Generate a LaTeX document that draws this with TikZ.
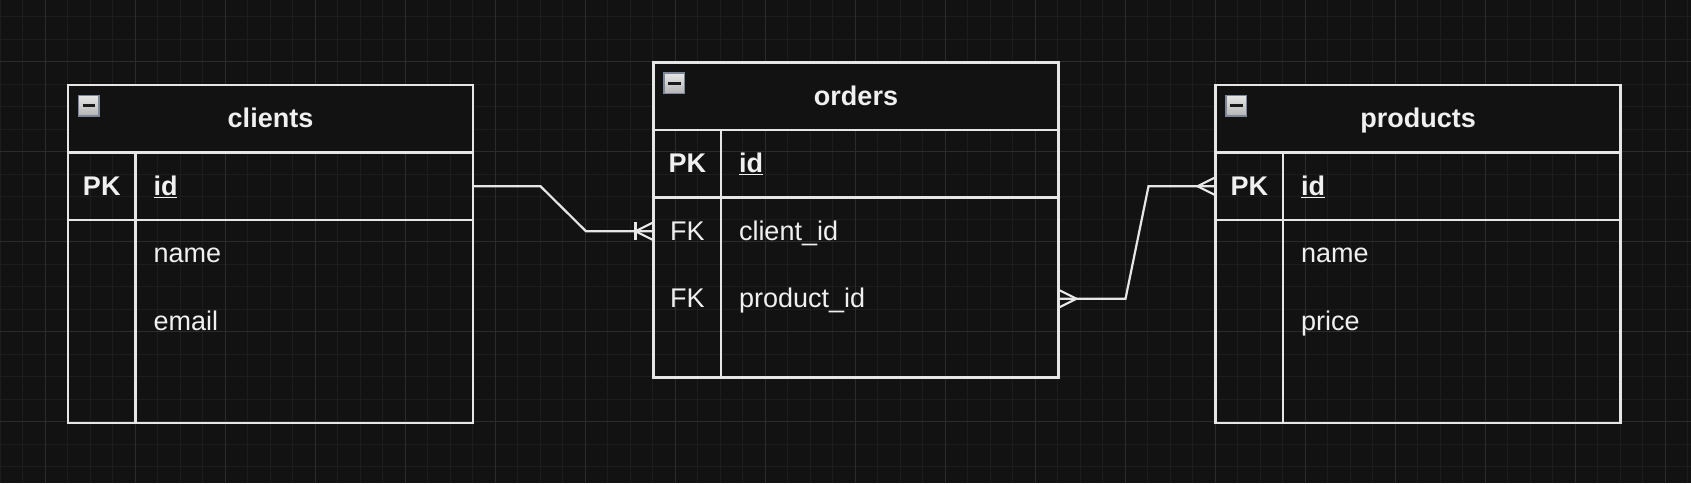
\documentclass[tikz,border=0pt]{standalone}
\usepackage{fontspec}
\setmainfont{Liberation Sans}
\usetikzlibrary{calc}
\definecolor{bg}{HTML}{121212}
\definecolor{gridminor}{HTML}{1D1D1D}
\definecolor{gridmajor}{HTML}{2C2C2C}
\definecolor{ink}{HTML}{E6E6E6}
\definecolor{txtc}{HTML}{F0F0F0}
\definecolor{iconborder}{HTML}{7E879A}
\definecolor{icontop}{HTML}{E6E6E6}
\definecolor{iconbot}{HTML}{B4B4B4}
\definecolor{icondark}{HTML}{1A1A1A}
\begin{document}
\begin{tikzpicture}[x=1pt,y=-1pt,
  tline/.style={draw=ink,line width=2.2pt},
  tblhdr/.style={draw=ink,line width=2.2pt,fill=bg,minimum width=405pt,minimum height=67.5pt,inner sep=0pt,outer sep=0pt},
  tblrow/.style={draw=ink,line width=2.2pt,minimum width=405pt,inner sep=0pt,outer sep=0pt},
  txt/.style={text=txtc,font=\fontsize{27}{32}\selectfont,inner sep=0pt,outer sep=0pt,text height=22pt,text depth=4pt},
  btxt/.style={txt,font=\fontsize{27}{32}\selectfont\bfseries},
  conn/.style={draw=ink,line width=2.2pt,line join=miter},
  icon/.style={top color=icontop,bottom color=iconbot,draw=iconborder,line width=1.5pt},
  iconbar/.style={draw=icondark,line width=3pt}]
% background and grid
\fill[bg] (0,0) rectangle (1691,483);
\useasboundingbox (0,0) rectangle (1691,483);
\foreach \x in {0,22.5,...,1691} \draw[gridminor,line width=1pt] (\x,0) -- (\x,483);
\foreach \y in {16.5,39,...,483} \draw[gridminor,line width=1pt] (0,\y) -- (1691,\y);
\foreach \x in {45,135,...,1691} \draw[gridmajor,line width=1pt] (\x,0) -- (\x,483);
\foreach \y in {61.5,151.5,...,483} \draw[gridmajor,line width=1pt] (0,\y) -- (1691,\y);

% ---------- clients ----------
\node[tblhdr] (clients) at (270.5,118.75) {};
\node[tblrow,minimum height=67.5pt] (clients-pk) at (270.5,186.25) {};
\node[tblrow,minimum height=203pt] (clients-body) at (270.5,321.5) {};
\draw[tline] ($(clients-pk.north west)+(67.5,0)$) -- ($(clients-body.south west)+(67.5,0)$);
\shade[icon] ($(clients.north west)+(10.5,10.5)$) rectangle ++(20.5,20.5);
\draw[iconbar] ($(clients.north west)+(14.5,20.5)$) -- ++(12.5,0);
\node[btxt] (clients-title) at (clients) {clients};
\node[btxt] (clients-pkl) at ($(clients-pk.west)+(33.75,0)$) {PK};
\node[btxt,anchor=west] (clients-id) at ($(clients-pk.west)+(85.5,0)$) {\underline{id}};
\node[txt,anchor=west] (clients-f1) at ($(clients-body.north west)+(85.5,33.75)$) {name};
\node[txt,anchor=west] (clients-f2) at ($(clients-body.north west)+(85.5,101.25)$) {email};

% ---------- orders ----------
\node[tblhdr] (orders) at (856,96.25) {};
\node[tblrow,minimum height=67.5pt] (orders-pk) at (856,163.75) {};
\node[tblrow,minimum height=180pt] (orders-body) at (856,287.5) {};
\draw[tline] ($(orders-pk.north west)+(67.5,0)$) -- ($(orders-body.south west)+(67.5,0)$);
\shade[icon] ($(orders.north west)+(10.5,10.5)$) rectangle ++(20.5,20.5);
\draw[iconbar] ($(orders.north west)+(14.5,20.5)$) -- ++(12.5,0);
\node[btxt] (orders-title) at (orders) {orders};
\node[btxt] (orders-pkl) at ($(orders-pk.west)+(33.75,0)$) {PK};
\node[btxt,anchor=west] (orders-id) at ($(orders-pk.west)+(85.5,0)$) {\underline{id}};
\node[txt] (orders-fk1) at ($(orders-body.north west)+(33.75,33.75)$) {FK};
\node[txt,anchor=west] (orders-f1) at ($(orders-body.north west)+(85.5,33.75)$) {client\_id};
\node[txt] (orders-fk2) at ($(orders-body.north west)+(33.75,101.25)$) {FK};
\node[txt,anchor=west] (orders-f2) at ($(orders-body.north west)+(85.5,101.25)$) {product\_id};

% ---------- products ----------
\node[tblhdr] (products) at (1418,118.75) {};
\node[tblrow,minimum height=67.5pt] (products-pk) at (1418,186.25) {};
\node[tblrow,minimum height=203pt] (products-body) at (1418,321.5) {};
\draw[tline] ($(products-pk.north west)+(67.5,0)$) -- ($(products-body.south west)+(67.5,0)$);
\shade[icon] ($(products.north west)+(10.5,10.5)$) rectangle ++(20.5,20.5);
\draw[iconbar] ($(products.north west)+(14.5,20.5)$) -- ++(12.5,0);
\node[btxt] (products-title) at (products) {products};
\node[btxt] (products-pkl) at ($(products-pk.west)+(33.75,0)$) {PK};
\node[btxt,anchor=west] (products-id) at ($(products-pk.west)+(85.5,0)$) {\underline{id}};
\node[txt,anchor=west] (products-f1) at ($(products-body.north west)+(85.5,33.75)$) {name};
\node[txt,anchor=west] (products-f2) at ($(products-body.north west)+(85.5,101.25)$) {price};

% ---------- connectors ----------
\coordinate (oc-in) at (orders-body.west |- orders-f1.west);
\coordinate (op-out) at (orders-body.east |- orders-f2.west);
\coordinate (pid-in) at (products-pk.west);
\draw[conn] (clients-pk.east) -- ++(67.5,0) -- ($(oc-in)+(-67.5,0)$) -- (oc-in);
\draw[conn] ($(oc-in)+(0,-9)$) -- ($(oc-in)+(-18,0)$) -- ($(oc-in)+(0,9)$);
\draw[conn] ($(oc-in)+(-18,-9)$) -- ($(oc-in)+(-18,9)$);
\draw[conn] (op-out) -- ++(67,0) -- ($(pid-in)+(-67,0)$) -- (pid-in);
\draw[conn] ($(op-out)+(0,-9)$) -- ($(op-out)+(18,0)$) -- ($(op-out)+(0,9)$);
\draw[conn] ($(pid-in)+(0,-9)$) -- ($(pid-in)+(-18,0)$) -- ($(pid-in)+(0,9)$);
\end{tikzpicture}
\end{document}
